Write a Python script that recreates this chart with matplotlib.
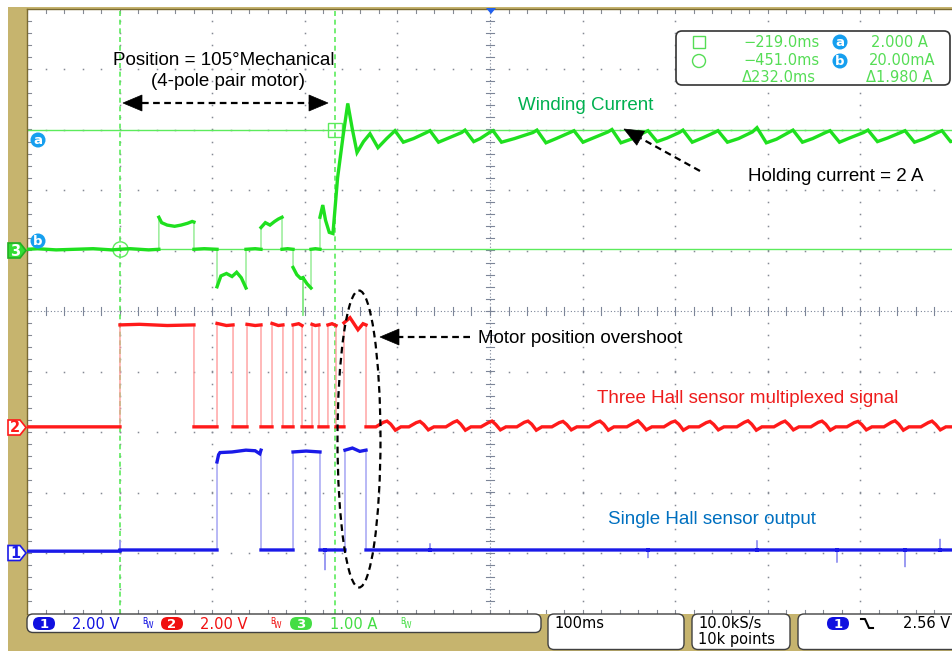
import numpy as np
import matplotlib
matplotlib.use('Agg')
import matplotlib.pyplot as plt
from matplotlib.patches import Rectangle, FancyBboxPatch, Ellipse, Polygon, Circle

# ---------------- data ----------------
T0 = -551.4          # time at left edge of screen (ms)
MS_PER_DIV = 100.0   # horizontal scale
CH1_VDIV, CH2_VDIV, CH3_ADIV = 2.0, 2.0, 1.0
CH1_OFF, CH2_OFF, CH3_OFF = -4.0, -1.93, 1.0   # ground positions (div)

# Channel 3: winding current (A)
cur_t = [-551.4, -540, -520, -500, -480, -460, -451, -440, -420, -409.0,
         -409.0, -406, -400, -392, -385, -378, -373, -371.1,
         -371.1, -360, -346.2,
         -346.2, -342, -336, -330, -325, -320, -314.9,
         -314.9, -305, -298.7,
         -298.7, -294, -289, -284, -280, -276.0,
         -276.0, -270, -264.1,
         -264.1, -260, -256, -253.4, -253.4, -253.4, -249, -244.7,
         -244.7, -240, -235.0,
         -235.0, -232, -229, -225, -221, -216, -210, -205.0, -200, -195.0,
         -188, -181.0, -172.4, -163,
         -154.0, -145, -134, -120,
         -116.2, -107, -96, -82,
         -78.4, -69, -62, -52,
         -48.2, -39, -25, -5,
         -0.7, 9, 20, 35,
         39.3, 49, 60, 76,
         80.3, 90, 101, 115,
         119.2, 129, 140, 153,
         157.0, 167, 178, 191,
         194.8, 205, 217, 232,
         236.9, 247, 258, 271,
         275.8, 286, 297, 311,
         315.8, 326, 337, 352,
         356.8, 367, 378, 392,
         396.8, 407, 418, 432,
         436.7, 446, 448.6]
cur_a = [0.02, 0.03, 0.01, 0.02, 0.03, 0.01, 0.02, 0.03, 0.01, 0.02,
         0.55, 0.46, 0.42, 0.40, 0.42, 0.45, 0.48, 0.47,
         0.02, 0.03, 0.02,
         -0.60, -0.42, -0.38, -0.43, -0.36, -0.45, -0.62,
         0.02, 0.03, 0.02,
         0.38, 0.46, 0.42, 0.48, 0.52, 0.55,
         0.02, 0.03, 0.02,
         -0.28, -0.40, -0.46, -0.46, -1.07, -0.45, -0.55, -0.62,
         0.02, 0.03, 0.02,
         0.55, 0.75, 0.50, 0.30, 0.28, 1.20, 1.90, 2.43, 2.00, 1.62,
         1.80, 1.93, 1.70, 1.85,
         1.98, 1.79, 1.85, 1.95,
         1.98, 1.79, 1.86, 1.95,
         1.99, 1.80, 1.85, 1.95,
         1.98, 1.79, 1.85, 1.95,
         1.99, 1.78, 1.85, 1.95,
         1.98, 1.79, 1.86, 1.96,
         2.00, 1.78, 1.84, 1.95,
         1.98, 1.80, 1.86, 1.95,
         1.99, 1.79, 1.86, 1.95,
         1.98, 1.79, 1.85, 1.96,
         2.03, 1.78, 1.84, 1.95,
         1.99, 1.79, 1.85, 1.95,
         1.98, 1.79, 1.86, 1.95,
         1.99, 1.80, 1.86, 1.95,
         1.98, 1.79, 1.85, 1.95,
         1.98, 1.80, 1.81]

# Channel 2: three Hall sensor multiplexed signal (V)
hall3_t = [-551.4, -500, -451.0,
           -451.0, -430, -400, -371.1,
           -371.1, -346.2,
           -346.2, -336, -328.9,
           -328.9, -313.8,
           -313.8, -305, -298.7,
           -298.7, -286.8,
           -286.8, -280, -275.0,
           -275.0, -264.1,
           -264.1, -258, -254.4,
           -254.4, -243.6,
           -243.6, -240, -236.1,
           -236.1, -226.4,
           -226.4, -222, -217.7,
           -217.7, -209.1,
           -209.1, -202.6, -194, -188.5, -185.3,
           -185.3, -174.6, -166.6, -162.6, -158.6, -153.6, -147.6,
           -139.0, -131.0, -127.0, -123.0, -118.0, -112.0,
           -99.0, -91.0, -87.0, -83.0, -78.0, -72.0,
           -61.2, -53.2, -49.2, -45.2, -40.2, -34.2,
           -22.4, -14.4, -10.4, -6.4, -1.4, 4.6,
           15.4, 23.4, 27.4, 31.4, 36.4, 42.4,
           55.4, 63.4, 67.4, 71.4, 76.4, 82.4,
           96.4, 104.4, 108.4, 112.4, 117.4, 123.4,
           136.4, 144.4, 148.4, 152.4, 157.4, 163.4,
           174.2, 182.2, 186.2, 190.2, 195.2, 201.2,
           215.2, 223.2, 227.2, 231.2, 236.2, 242.2,
           255.2, 263.2, 267.2, 271.2, 276.2, 282.2,
           295.1, 303.1, 307.1, 311.1, 316.1, 322.1,
           334.0, 342.0, 346.0, 350.0, 355.0, 361.0,
           374.0, 382.0, 386.0, 390.0, 395.0, 401.0,
           413.9, 421.9, 425.9, 429.9, 434.9, 440.9,
           448.6]
hall3_v = [0.03, 0.03, 0.03,
           3.40, 3.42, 3.38, 3.40,
           0.03, 0.03,
           3.45, 3.38, 3.40,
           0.03, 0.03,
           3.42, 3.38, 3.40,
           0.03, 0.03,
           3.45, 3.38, 3.40,
           0.03, 0.03,
           3.40, 3.44, 3.38,
           0.03, 0.03,
           3.42, 3.38, 3.40,
           0.03, 0.03,
           3.40, 3.44, 3.38,
           0.03, 0.03,
           3.47, 3.64, 3.24, 3.44, 3.40,
           0.03, 0.03, 0.18, 0.22, 0.12, -0.08, 0.03,
           0.03, 0.17, 0.21, 0.11, -0.07, 0.03,
           0.03, 0.18, 0.23, 0.12, -0.08, 0.03,
           0.03, 0.17, 0.22, 0.11, -0.07, 0.03,
           0.03, 0.18, 0.22, 0.12, -0.08, 0.03,
           0.03, 0.17, 0.21, 0.11, -0.07, 0.03,
           0.03, 0.18, 0.22, 0.12, -0.08, 0.03,
           0.03, 0.17, 0.23, 0.11, -0.07, 0.03,
           0.03, 0.18, 0.22, 0.12, -0.08, 0.03,
           0.03, 0.17, 0.21, 0.11, -0.07, 0.03,
           0.03, 0.18, 0.23, 0.12, -0.08, 0.03,
           0.03, 0.17, 0.22, 0.11, -0.07, 0.03,
           0.03, 0.18, 0.22, 0.12, -0.08, 0.03,
           0.03, 0.17, 0.21, 0.11, -0.07, 0.03,
           0.03, 0.18, 0.23, 0.12, -0.08, 0.03,
           0.03, 0.17, 0.22, 0.11, -0.07, 0.03,
           0.03]

# Channel 1: single Hall sensor output (V)
hall1_t = [-551.4, -451.0, -451.0, -451.0, -430, -346.2,
           -346.2, -344.5, -343, -330, -315, -305, -300, -298.7,
           -298.7, -264.1,
           -264.1, -250, -240, -235.0,
           -235.0, -229.6, -229.6, -229.6, -208.0,
           -208.0, -200, -192, -185.3,
           -185.3, -116.2, -116.2, -116.2, 119.2, 119.2, 119.2,
           236.9, 236.9, 236.9, 323.3, 323.3, 323.3,
           396.8, 396.8, 396.8, 434.6, 434.6, 434.6, 448.6]
hall1_v = [0.06, 0.06, 0.40, 0.10, 0.10, 0.10,
           3.01, 3.25, 3.32, 3.34, 3.40, 3.38, 3.28, 3.40,
           0.10, 0.10,
           3.34, 3.37, 3.35, 3.34,
           0.10, 0.10, -0.55, 0.10, 0.10,
           3.40, 3.47, 3.36, 3.40,
           0.10, 0.10, 0.30, 0.10, 0.10, -0.15, 0.10,
           0.10, 0.40, 0.10, 0.10, -0.30, 0.10,
           0.10, -0.45, 0.10, 0.10, 0.45, 0.10, 0.10]

cursor_t = [-451.0, -219.0]      # ms
cursor_i = [2.000, 0.020]        # A (cursor a, cursor b)
readout_left = ["\u2212219.0ms", "\u2212451.0ms", "\u0394232.0ms"]
readout_right = ["2.000 A", "20.00mA", "\u03941.980 A"]
ch_labels = ["2.00 V", "2.00 V", "1.00 A"]
timebase = "100ms"
sample_info = ["10.0kS/s", "10k points"]
trigger_level = "2.56 V"

# ---------------- style ----------------
W, H = 953, 651
TAN = '#C6B46E'
GRID = '#858a94'
GREEN, GREEN_L = '#1FE01F', '#8DEB8D'
RED, RED_L = '#FF1A1A', '#FF9C9C'
BLUE, BLUE_L = '#1A1AE8', '#9C9CF2'
CUR = '#5CEB5C'
TXTFONT = 'Liberation Sans'

fig = plt.figure(figsize=(W / 100, H / 100), dpi=100)
fig.patch.set_facecolor('white')

bg = fig.add_axes([0, 0, 1, 1])
bg.set_xlim(0, W); bg.set_ylim(H, 0); bg.axis('off')
bg.add_patch(Rectangle((8, 7), W - 8, H - 7, facecolor=TAN, edgecolor='none'))
bg.set_zorder(0)

ax = fig.add_axes([27 / W, (H - 613.5) / H, 926 / W, 605 / H])
ax.set_zorder(1)
ax.set_facecolor('white')
ax.set_xlim(T0, T0 + 10 * MS_PER_DIV)
ax.set_ylim(-5, 5)
ax.set_xticks([]); ax.set_yticks([])
for s in ['right', 'bottom']:
    ax.spines[s].set_visible(False)
for s in ['top', 'left']:
    ax.spines[s].set_color('#7A6A32'); ax.spines[s].set_linewidth(1.0)

PX_MS = MS_PER_DIV / 92.6   # ms per pixel
PX_DV = 1 / 60.5            # div per pixel

# grid dots
for k in range(1, 10):
    if k == 5:
        continue
    xg = T0 + k * MS_PER_DIV
    yy = np.arange(-5, 5.001, 0.2)
    ax.plot(np.full_like(yy, xg), yy, ls='none', marker='s', ms=1.1, mfc=GRID, mec='none', zorder=1)
for k in range(-4, 5):
    if k == 0:
        continue
    xx = np.arange(T0, T0 + 1000.01, 20)
    ax.plot(xx, np.full_like(xx, k), ls='none', marker='s', ms=1.1, mfc=GRID, mec='none', zorder=1)
# centre lines
xc = T0 + 5 * MS_PER_DIV
ax.axvline(xc, color='#7c8598', lw=0.8, ls=(0, (1, 2)), zorder=1)
ax.axhline(0, color='#7c8598', lw=0.8, ls=(0, (1, 2)), zorder=1)
for yv in np.arange(-5, 5.001, 0.2):
    ax.plot([xc - 4 * PX_MS, xc + 4 * PX_MS], [yv, yv], color='#7c8598', lw=0.8, zorder=1)
for xv in np.arange(T0, T0 + 1000.01, 20):
    ax.plot([xv, xv], [-4 * PX_DV, 4 * PX_DV], color='#7c8598', lw=0.8, zorder=1)
# edge ticks
for yv in np.arange(-5, 5.001, 0.2):
    ax.plot([T0, T0 + 4 * PX_MS], [yv, yv], color=GRID, lw=0.8, zorder=1)
for xv in np.arange(T0, T0 + 1000.01, 20):
    ax.plot([xv, xv], [5, 5 - 4 * PX_DV], color=GRID, lw=0.8, zorder=1)
    ax.plot([xv, xv], [-5, -5 + 4 * PX_DV], color=GRID, lw=0.8, zorder=1)

# cursors
for ct in cursor_t:
    ax.axvline(ct, color=CUR, lw=1.2, ls=(0, (3, 2.2)), zorder=2)
for ci in cursor_i:
    ax.axhline(CH3_OFF + ci / CH3_ADIV, color=CUR, lw=1.0, zorder=2)
ax.plot([cursor_t[1]], [CH3_OFF + cursor_i[0] / CH3_ADIV], marker='s', ms=10, mfc='none', mec=CUR, mew=1.0, zorder=2)
ax.plot([cursor_t[0]], [CH3_OFF + cursor_i[1] / CH3_ADIV], marker='o', ms=11, mfc='none', mec=CUR, mew=1.0, zorder=2)


def trace(t, v, off, scale, col, light):
    t = np.asarray(t, float)
    y = off + np.asarray(v, float) / scale
    ax.plot(t, y, color=light, lw=1.0, zorder=3)
    tt, yy = [t[0]], [y[0]]
    for i in range(1, len(t)):
        if t[i] == t[i - 1]:
            tt.append(np.nan); yy.append(np.nan)
        tt.append(t[i]); yy.append(y[i])
    ax.plot(tt, yy, color=col, lw=2.4, zorder=4, solid_joinstyle='miter')


trace(cur_t, cur_a, CH3_OFF, CH3_ADIV, GREEN, GREEN_L)
trace(hall3_t, hall3_v, CH2_OFF, CH2_VDIV, RED, RED_L)
trace(hall1_t, hall1_v, CH1_OFF, CH1_VDIV, BLUE, BLUE_L)

# ---------------- overlay ----------------
ov = fig.add_axes([0, 0, 1, 1])
ov.set_zorder(5)
ov.set_xlim(0, W); ov.set_ylim(H, 0); ov.axis('off')


def arrow(tail, tip, both=False, hl=19, hw=8):
    tail = np.array(tail, float); tip = np.array(tip, float)
    u = (tip - tail) / np.linalg.norm(tip - tail)
    n = np.array([-u[1], u[0]])
    b1 = tip - u * hl
    ov.add_patch(Polygon([tip, b1 + n * hw, b1 - n * hw], closed=True, fc='black', ec='black', lw=0.5))
    start = tail
    if both:
        b0 = tail + u * hl
        ov.add_patch(Polygon([tail, b0 + n * hw, b0 - n * hw], closed=True, fc='black', ec='black', lw=0.5))
        start = b0
    ov.plot([start[0], b1[0]], [start[1], b1[1]], color='black', lw=1.6, ls=(0, (3, 2)))


arrow((123, 103), (328, 103), both=True)
arrow((700, 171), (624, 129))
arrow((470, 337), (380, 337))
ov.add_patch(Ellipse((359, 439), 43, 297, fill=False, ec='black', lw=1.6, ls=(0, (3, 2))))

ov.text(113, 65, "Position = 105\u00b0Mechanical", fontsize=13.5, family=TXTFONT, color='black')
ov.text(151, 86, "(4-pole pair motor)", fontsize=13.5, family=TXTFONT, color='black')
ov.text(518, 110, "Winding Current", fontsize=13.5, family=TXTFONT, color='#00B050')
ov.text(748, 181, "Holding current = 2 A", fontsize=13.5, family=TXTFONT, color='black')
ov.text(478, 343, "Motor position overshoot", fontsize=13.5, family=TXTFONT, color='black')
ov.text(597, 403, "Three Hall sensor multiplexed signal", fontsize=13.5, family=TXTFONT, color='#EE1C1C')
ov.text(608, 524, "Single Hall sensor output", fontsize=13.5, family=TXTFONT, color='#0070C0')

# cursor readout box
RG = '#55DD55'
ov.add_patch(FancyBboxPatch((676, 31), 274, 54, boxstyle='round,pad=0,rounding_size=6',
                            fc='white', ec='#333333', lw=1.2))
ov.add_patch(Rectangle((693, 36), 12, 12, fill=False, ec=RG, lw=1.0))
ov.add_patch(Circle((699, 61), 6.5, fill=False, ec=RG, lw=1.0))
for i, s in enumerate(readout_left):
    ov.text(743 if i < 2 else 742, [47, 65, 82][i], s, fontsize=10.5, family='DejaVu Sans', color=RG)
for i, s in enumerate(readout_right):
    ov.text([871, 869, 866][i], [47, 65, 82][i], s, fontsize=10.5, family='DejaVu Sans', color=RG)
for yy, lab in [(42, 'a'), (61, 'b')]:
    ov.add_patch(Circle((840, yy), 7.5, fc='#169FEF', ec='none'))
    ov.text(840, yy + 0.5, lab, fontsize=9.5, fontweight='bold', color='white', ha='center', va='center',
            family='DejaVu Sans')

# left-side markers
for yy, lab in [(140, 'a'), (241, 'b')]:
    ov.add_patch(Circle((38, yy), 7.5, fc='#169FEF', ec='none'))
    ov.text(38, yy + 0.5, lab, fontsize=9.5, fontweight='bold', color='white', ha='center', va='center',
            family='DejaVu Sans')


def chan_marker(yc, lab, fc, ec, tc):
    pts = [(8, yc - 7.5), (20, yc - 7.5), (26, yc), (20, yc + 7.5), (8, yc + 7.5)]
    ov.add_patch(Polygon(pts, closed=True, fc=fc, ec=ec, lw=1.2))
    ov.text(15, yc + 0.5, lab, fontsize=10.5, fontweight='bold', color=tc, ha='center', va='center',
            family='DejaVu Sans')


chan_marker(250.5, '3', '#33DD33', '#22B022', 'white')
chan_marker(427.5, '2', 'white', RED, RED)
chan_marker(553, '1', 'white', BLUE, BLUE)

# trigger position marker
ov.add_patch(Polygon([(486, 8), (496, 8), (491, 14)], closed=True, fc='#2060F0', ec='none'))

# status bar
ov.add_patch(FancyBboxPatch((27, 614), 514, 18.5, boxstyle='round,pad=0,rounding_size=6',
                            fc='white', ec='#404040', lw=1.0))
for x0, w in [(548, 136), (692, 98), (798, 170)]:
    ov.add_patch(FancyBboxPatch((x0, 614), w, 35.5, boxstyle='round,pad=0,rounding_size=6',
                                fc='white', ec='#404040', lw=1.0))


def pill(x0, lab, fc):
    ov.add_patch(FancyBboxPatch((x0, 617), 22, 13, boxstyle='round,pad=0,rounding_size=6.5',
                                fc=fc, ec='none'))
    ov.text(x0 + 11, 624, lab, fontsize=9.5, fontweight='bold', color='white', ha='center', va='center',
            family='DejaVu Sans')


def bw(x0, col):
    ov.text(x0, 624, 'B', fontsize=5.5, color=col, family='DejaVu Sans')
    ov.text(x0 + 4, 628, 'W', fontsize=5.5, color=col, family='DejaVu Sans')


pill(33, '1', '#1010E0')
ov.text(72, 629, ch_labels[0], fontsize=10.5, family='DejaVu Sans', color='#1010E0')
bw(142, '#1010E0')
pill(161, '2', '#F01010')
ov.text(200, 629, ch_labels[1], fontsize=10.5, family='DejaVu Sans', color='#F01010')
bw(270, '#F01010')
pill(290, '3', '#44DD44')
ov.text(330, 629, ch_labels[2], fontsize=10.5, family='DejaVu Sans', color='#44DD44')
bw(400, '#44DD44')

ov.text(554, 628, timebase, fontsize=10.5, family='DejaVu Sans', color='black')
ov.text(698, 628, sample_info[0], fontsize=10.5, family='DejaVu Sans', color='black')
ov.text(698, 644, sample_info[1], fontsize=10.5, family='DejaVu Sans', color='black')
pill(827, '1', '#1010E0')
ov.plot([861, 865, 869, 873], [619, 619, 628, 628], color='black', lw=1.5)
ov.text(903, 628, trigger_level, fontsize=10.5, family='DejaVu Sans', color='black')

fig.savefig('out.png', dpi=100, facecolor=fig.get_facecolor())
